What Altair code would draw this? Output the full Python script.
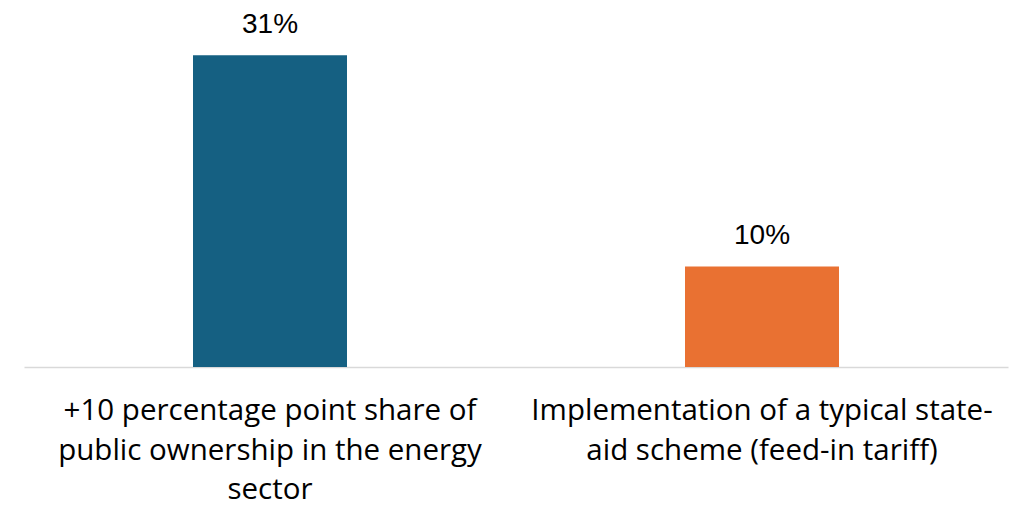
import altair as alt
import pandas as pd

categories = ["+10 percentage point share of public ownership in the energy sector",
              "Implementation of a typical state-aid scheme (feed-in tariff)"]
label_lines = [["+10 percentage point share of", "public ownership in the energy", "sector"],
               ["Implementation of a typical state-", "aid scheme (feed-in tariff)"]]
values = [0.31, 0.10]
value_labels = ["31%", "10%"]
colors = ["#156082", "#E97132"]

df = pd.DataFrame({
    "cat": categories,
    "value": values,
    "vlabel": value_labels,
    "lines": label_lines,
    "color": colors,
})

W, H = 984, 352

x = alt.X("cat:N", sort=categories,
          scale=alt.Scale(paddingInner=0.687, paddingOuter=0.3435),
          axis=alt.Axis(title=None, labels=False, ticks=False, domainColor="#d9d9d9", domainWidth=1.5))
y = alt.Y("value:Q", scale=alt.Scale(domain=[0, 0.35], nice=False), axis=None)

bars = alt.Chart(df).mark_bar().encode(
    x=x, y=y, color=alt.Color("color:N", scale=None)
)

vals = alt.Chart(df).mark_text(font="Liberation Sans", fontSize=28, baseline="alphabetic", dy=-22, color="#000000").encode(
    x=x, y=y, text="vlabel:N"
)

cats = alt.Chart(df).mark_text(font="Open Sans", fontSize=29.5, baseline="alphabetic", lineHeight=39.5, color="#000000").encode(
    x=x, y=alt.value(405), text="lines"
)

chart = alt.layer(bars, vals, cats).properties(
    width=W, height=H,
    autosize=alt.AutoSizeParams(type="none"),
    padding={"left": 16, "top": 7, "right": 15, "bottom": 150},
).configure_view(stroke=None)

chart.save("out.html", embed_options={"renderer": "svg", "actions": False})
